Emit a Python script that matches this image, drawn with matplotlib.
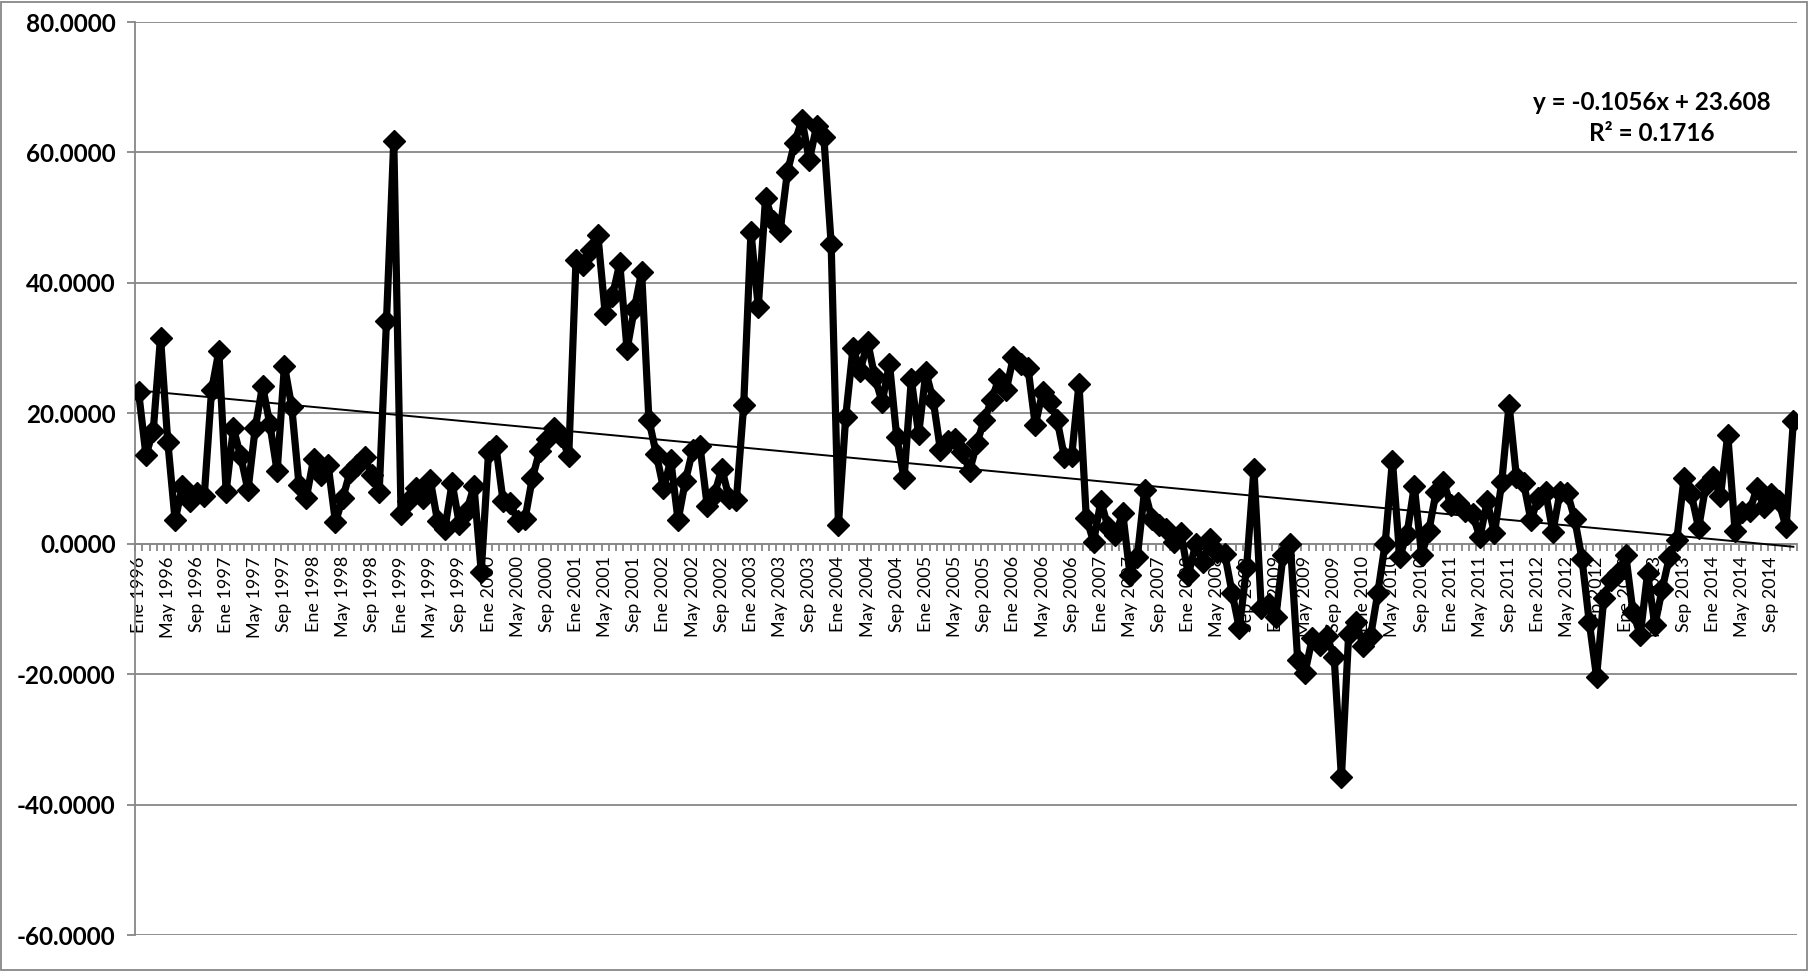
import numpy as np
import matplotlib
matplotlib.use("Agg")
import matplotlib.pyplot as plt
from matplotlib.ticker import FixedLocator, FuncFormatter
from matplotlib.patches import Rectangle

plt.rcParams["font.family"] = ["Lato", "DejaVu Sans"]

# Monthly values, Ene 1996 .. Dic 2014 (one row per year)
values = [
    23.2, 13.6, 17.3, 31.6, 15.6, 3.6, 8.8, 6.5, 7.8, 7.3, 23.5, 29.5,
    8.0, 17.7, 13.4, 8.2, 17.8, 24.2, 18.3, 11.1, 27.3, 21.0, 9.0, 7.0,
    13.0, 10.5, 12.0, 3.3, 7.0, 11.0, 12.0, 13.3, 10.5, 8.0, 34.2, 61.8,
    4.5, 6.5, 8.5, 7.0, 9.8, 3.5, 2.2, 9.3, 3.0, 5.0, 8.8, -4.3,
    14.0, 15.0, 6.5, 6.2, 3.5, 3.8, 10.0, 14.2, 16.0, 17.8, 16.5, 13.4,
    43.5, 42.8, 45.0, 47.3, 35.3, 38.0, 43.0, 29.8, 36.0, 41.7, 19.0, 13.8,
    8.5, 12.8, 3.6, 9.6, 14.3, 15.0, 5.8, 7.6, 11.5, 7.0, 6.7, 21.2,
    47.8, 36.3, 53.0, 49.5, 48.0, 57.0, 61.5, 65.0, 58.8, 64.0, 62.3, 46.0,
    2.9, 19.5, 30.0, 26.5, 31.0, 25.5, 21.7, 27.6, 16.3, 10.0, 25.2, 16.8,
    26.3, 22.0, 14.3, 15.8, 16.0, 14.0, 11.2, 15.4, 19.0, 22.0, 25.3, 23.5,
    28.6, 27.5, 27.0, 18.2, 23.2, 21.7, 19.0, 13.3, 13.5, 24.5, 4.0, 0.3,
    6.5, 2.5, 1.3, 4.7, -4.8, -2.0, 8.2, 3.8, 2.8, 2.3, 0.2, 1.6,
    -4.8, -0.1, -2.8, 0.7, -1.3, -1.6, -7.5, -13.0, -3.5, 11.4, -9.8, -9.3,
    -11.3, -1.7, 0.0, -17.8, -19.8, -14.5, -15.6, -14.2, -17.3, -35.8, -13.8, -12.0,
    -15.7, -14.2, -7.5, 0.0, 12.7, -2.0, 1.5, 8.8, -1.7, 2.0, 8.0, 9.5,
    6.0, 6.2, 5.0, 4.5, 1.0, 6.5, 1.6, 9.5, 21.3, 10.3, 9.3, 3.6,
    7.0, 8.0, 1.8, 8.0, 7.8, 3.8, -2.3, -12.0, -20.4, -8.3, -5.5, -4.5,
    -1.7, -10.5, -14.0, -4.5, -12.5, -7.0, -2.0, 0.5, 10.0, 7.6, 2.4, 9.0,
    10.3, 7.3, 16.7, 2.0, 4.8, 5.0, 8.5, 5.6, 7.6, 6.5, 2.5, 18.8,
]
month_names = ["Ene", "Feb", "Mar", "Abr", "May", "Jun",
               "Jul", "Ago", "Sep", "Oct", "Nov", "Dic"]
years = list(range(1996, 2015))
labels = [f"{m} {y}" for y in years for m in month_names]

# Excel linear trendline shown on the chart
trend_slope = -0.1056
trend_intercept = 23.608
trend_text = "y = -0.1056x + 23.608\nR² = 0.1716"

y_ticks = [-60, -40, -20, 0, 20, 40, 60, 80]

grid_col = "#878787"

fig = plt.figure(figsize=(18.14, 9.71), dpi=100)
ax = fig.add_axes([135 / 1814, 36 / 971, 1662 / 1814, 913 / 971])

x = np.arange(len(values))
ax.plot(x, values, color="black", linewidth=5.2, marker="D", markersize=11.5,
        markeredgewidth=1, zorder=4)

# trendline (Excel numbers x from 1)
ax.plot(x, trend_slope * (x + 1) + trend_intercept, color="black",
        linewidth=1.4, zorder=3)

ax.set_xlim(-0.5, len(values) - 0.5)
ax.set_ylim(-60, 80)

ax.yaxis.set_major_locator(FixedLocator(y_ticks))
ax.yaxis.set_major_formatter(FuncFormatter(lambda v, p: f"{v:.4f}"))
ax.yaxis.grid(True, color=grid_col, linewidth=1.3)
ax.set_axisbelow(True)

lab_pos = list(range(0, len(values), 4))
ax.set_xticks(lab_pos)
ax.set_xticks(np.arange(len(values) + 1) - 0.5, minor=True)
ax.tick_params(axis="x", which="major", length=0, pad=9, labelrotation=90,
               labelsize=13)
ax.tick_params(axis="x", which="minor", length=5, width=1.3, color=grid_col,
               direction="out")
ax.tick_params(axis="y", length=6, width=1.3, color=grid_col, pad=8,
               labelsize=17.5)
ax.set_xticklabels([labels[i] for i in lab_pos])
for t in ax.get_xticklabels():
    t.set_rotation(90)
    t.set_fontweight("bold")
    t.set_horizontalalignment("center")
    t.set_verticalalignment("top")
for t in ax.get_yticklabels():
    t.set_fontweight("bold")

ax.spines["bottom"].set_position(("data", 0))
ax.spines["bottom"].set_color(grid_col)
ax.spines["bottom"].set_linewidth(1.3)
ax.spines["left"].set_color(grid_col)
ax.spines["left"].set_linewidth(1.3)
ax.spines["top"].set_visible(False)
ax.spines["right"].set_visible(False)

fig.text(1652 / 1814, 1 - 118 / 971, trend_text, ha="center", va="center",
         fontsize=17.5, fontweight="bold", linespacing=1.4)

fig.patches.append(Rectangle((1 / 1814, 1 / 971), 1806 / 1814, 968 / 971,
                             transform=fig.transFigure, fill=False,
                             edgecolor=grid_col, linewidth=1.3))

fig.savefig("out.png", dpi=100)
